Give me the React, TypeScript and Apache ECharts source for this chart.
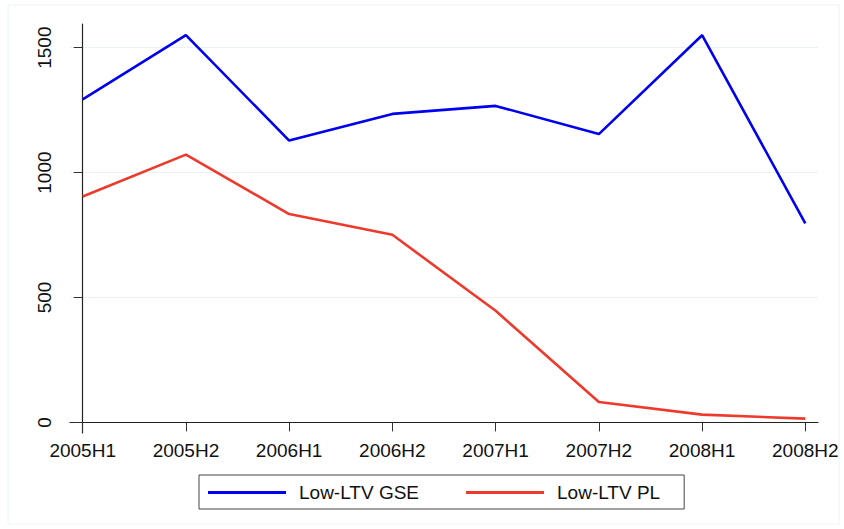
import React, { useEffect, useRef } from "react";
import * as echarts from "echarts";

const categories = ["2005H1", "2005H2", "2006H1", "2006H2", "2007H1", "2007H2", "2008H1", "2008H2"];
const gseValues = [1293, 1550, 1128, 1235, 1267, 1154, 1550, 797];
const plValues = [904, 1072, 834, 751, 447, 82, 31, 15];
const yTicks = [0, 500, 1000, 1500];
const seriesNames = ["Low-LTV GSE", "Low-LTV PL"];
const seriesColors = ["#0000f0", "#ee3a2c"];

const FONT = "'Liberation Sans', Arial, Helvetica, sans-serif";

export default function App() {
  const ref = useRef<HTMLDivElement>(null);
  useEffect(() => {
    if (!ref.current) return;
    const chart = echarts.init(ref.current, null, { renderer: "svg" });
    const xIdx = categories.map((_, i) => i);
    const option = {
      animation: false,
      backgroundColor: "#ffffff",
      graphic: [
        {
          type: "rect",
          shape: { x: 8, y: 5, width: 831, height: 519 },
          style: { fill: "none", stroke: "#eef3f4", lineWidth: 1 },
          silent: true,
        },
      ],
      grid: { left: 70, right: 26, top: 24, bottom: 96, containLabel: false },
      xAxis: {
        type: "value",
        min: -0.123,
        max: 7.123,
        axisLine: { show: true, lineStyle: { color: "#222", width: 1.2 } },
        axisTick: { show: true, length: 9, customValues: xIdx, lineStyle: { color: "#333" } },
        axisLabel: {
          customValues: xIdx,
          margin: 8,
          fontSize: 19,
          fontFamily: FONT,
          color: "#111",
          formatter: (v: number) => categories[Math.round(v)] ?? "",
        },
        splitLine: { show: false },
      },
      yAxis: {
        type: "value",
        min: -42.4,
        max: 1594.8,
        axisLine: { show: true, lineStyle: { color: "#222", width: 1.2 } },
        axisTick: { show: true, length: 9, customValues: yTicks, lineStyle: { color: "#333" } },
        axisLabel: {
          customValues: yTicks,
          rotate: 90,
          margin: 16,
          fontSize: 19,
          fontFamily: FONT,
          color: "#111",
          formatter: (v: number) => String(v),
        },
        splitLine: { show: true, lineStyle: { color: "#eaf2f3", width: 1.2 } },
      },
      legend: {
        left: 199,
        top: 475,
        orient: "horizontal",
        padding: [8, 24, 7, 9],
        itemWidth: 78,
        itemHeight: 3,
        itemGap: 47,
        icon: "rect",
        borderColor: "#444",
        borderWidth: 1,
        textStyle: { fontSize: 19, fontFamily: FONT, color: "#111", padding: [0, 0, 0, 8] },
        data: seriesNames,
      },
      series: [
        {
          name: seriesNames[0],
          type: "line",
          color: seriesColors[0],
          showSymbol: false,
          symbol: "none",
          lineStyle: { width: 2.6, color: seriesColors[0] },
          data: gseValues.map((v, i) => [i, v]),
        },
        {
          name: seriesNames[1],
          type: "line",
          color: seriesColors[1],
          showSymbol: false,
          symbol: "none",
          lineStyle: { width: 2.6, color: seriesColors[1] },
          data: plValues.map((v, i) => [i, v]),
        },
      ],
    };
    chart.setOption(option as any);
    return () => chart.dispose();
  }, []);
  return (
    <div
      ref={ref}
      style={{ position: "fixed", left: 0, top: 0, width: 844, height: 529, background: "#fff" }}
    />
  );
}
